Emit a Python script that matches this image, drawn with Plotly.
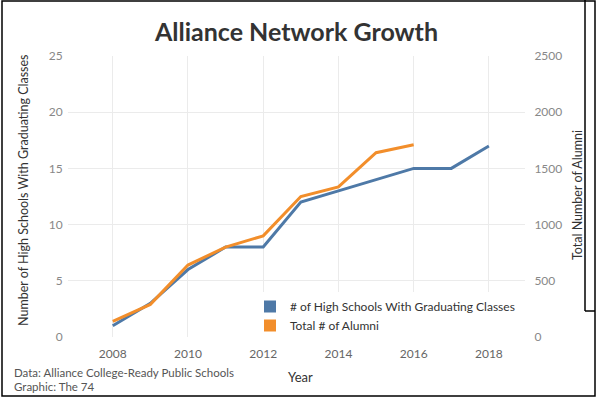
import plotly.graph_objects as go

years_schools = [2008, 2009, 2010, 2011, 2012, 2013, 2014, 2015, 2016, 2017, 2018]
schools = [1, 3, 6, 8, 8, 12, 13, 14, 15, 15, 17]
years_alumni = [2008, 2009, 2010, 2011, 2012, 2013, 2014, 2015, 2016]
alumni = [140, 290, 640, 800, 900, 1250, 1335, 1640, 1710]

x_ticks = [2008, 2010, 2012, 2014, 2016, 2018]
y_ticks = [0, 5, 10, 15, 20, 25]
y2_ticks = [0, 500, 1000, 1500, 2000, 2500]

BLUE = "#4e79a7"
ORANGE = "#f28e2b"
GRID = "#ebebeb"
FONT = "Lato"

W, H = 599, 399
ML, MR, MT, MB = 68, 74, 56, 62
PW = W - ML - MR
PH = H - MT - MB


def px_x(p):
    return (p - ML) / PW


def px_y(p):
    return (H - MB - p) / PH


fig = go.Figure()
fig.add_trace(go.Scatter(x=years_schools, y=schools, mode="lines",
                         line=dict(color=BLUE, width=3), showlegend=False,
                         name="# of High Schools With Graduating Classes"))
fig.add_trace(go.Scatter(x=years_alumni, y=alumni, mode="lines", yaxis="y2",
                         line=dict(color=ORANGE, width=3), showlegend=False,
                         name="Total # of Alumni"))
# legend entries (square swatches)
fig.add_trace(go.Scatter(x=[None], y=[None], mode="markers",
                         marker=dict(symbol="square", size=14, color=BLUE),
                         name="# of High Schools With Graduating Classes"))
fig.add_trace(go.Scatter(x=[None], y=[None], mode="markers",
                         marker=dict(symbol="square", size=14, color=ORANGE),
                         name="Total # of Alumni"))

fig.update_layout(
    width=W, height=H,
    margin=dict(l=ML, r=MR, t=MT, b=MB),
    paper_bgcolor="white", plot_bgcolor="white",
    font=dict(family=FONT, color="#666666", size=12),
    title=dict(text="<b>Alliance Network Growth</b>", x=0.5, xref="paper",
               xanchor="center", y=1 - 32 / H, yanchor="middle",
               font=dict(family=FONT, size=25, color="#333333")),
    xaxis=dict(range=[2006.81, 2018.96], tickvals=x_ticks,
               showgrid=True, gridcolor=GRID, zeroline=False, showline=False,
               ticks="outside", ticklen=6, tickcolor="rgba(0,0,0,0)",
               tickfont=dict(size=12, color="#666666")),
    yaxis=dict(range=[0, 25], tickvals=y_ticks, showgrid=True, gridcolor=GRID,
               zeroline=False, showline=False,
               ticks="outside", ticklen=2, tickcolor="rgba(0,0,0,0)",
               tickfont=dict(size=12, color="#888888")),
    yaxis2=dict(range=[0, 2500], tickvals=y2_ticks, overlaying="y", side="right",
                showgrid=False, zeroline=False, showline=False,
                ticks="outside", ticklen=6, tickcolor="rgba(0,0,0,0)",
                tickfont=dict(size=12, color="#888888")),
    legend=dict(x=px_x(250), y=px_y(292), xanchor="left", yanchor="top",
                bgcolor="white", font=dict(family=FONT, size=12, color="#333333"),
                itemsizing="constant", tracegroupgap=0,
                itemwidth=30),
    annotations=[
        dict(text="Number of High Schools With Graduating Classes", textangle=-90,
             x=px_x(23), y=px_y(190), xref="paper", yref="paper",
             showarrow=False, xanchor="center", yanchor="middle",
             font=dict(family=FONT, size=12.5, color="#333333")),
        dict(text="Total Number of Alumni", textangle=-90,
             x=px_x(577), y=px_y(195), xref="paper", yref="paper",
             showarrow=False, xanchor="center", yanchor="middle",
             font=dict(family=FONT, size=12.5, color="#333333")),
        dict(text="Year", x=px_x(300), y=px_y(377), xref="paper", yref="paper",
             showarrow=False, xanchor="center", yanchor="middle",
             font=dict(family=FONT, size=13, color="#333333")),
        dict(text="Data: Alliance College-Ready Public Schools", x=px_x(12),
             y=px_y(372), xref="paper", yref="paper", showarrow=False,
             xanchor="left", yanchor="middle",
             font=dict(family=FONT, size=11.5, color="#555555")),
        dict(text="Graphic: The 74", x=px_x(12), y=px_y(386), xref="paper",
             yref="paper", showarrow=False, xanchor="left", yanchor="middle",
             font=dict(family=FONT, size=11.5, color="#555555")),
    ],
    shapes=[
        dict(type="rect", xref="paper", yref="paper",
             x0=px_x(2), x1=px_x(595), y0=px_y(396), y1=px_y(1),
             line=dict(color="black", width=1.5), layer="above"),
        dict(type="line", xref="paper", yref="paper",
             x0=px_x(585), x1=px_x(585), y0=px_y(0), y1=px_y(311),
             line=dict(color="black", width=1.5)),
        dict(type="line", xref="paper", yref="paper",
             x0=px_x(585), x1=px_x(595), y0=px_y(311), y1=px_y(311),
             line=dict(color="black", width=1.5)),
    ],
)

fig.write_html("out.html", config={"displayModeBar": False},
               post_script="document.body.style.margin='0';"
                           "document.body.style.padding='0';")
